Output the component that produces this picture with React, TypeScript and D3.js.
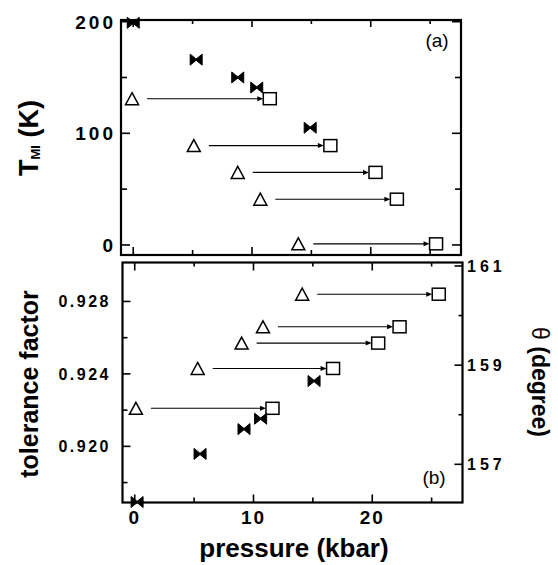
import React from "react";
import * as d3 from "d3";

// panel (a): T_MI vs pressure
const topBowP = [0, 5.3, 8.8, 10.4, 14.9];
const topBowT = [199, 166, 150, 141, 105];
const topTriP = [-0.1, 5.1, 8.8, 10.7, 13.9];
const topSqP = [11.5, 16.6, 20.4, 22.2, 25.5];
const topT = [131, 89, 65, 41, 1];

// panel (b): tolerance factor / theta vs pressure
const botBowP = [0.2, 5.5, 9.2, 10.6, 15.1];
const botBowTheta = [156.24, 157.21, 157.71, 157.92, 158.68];
const botTriP = [0.1, 5.3, 9.0, 10.8, 14.1];
const botSqP = [11.6, 16.7, 20.5, 22.3, 25.6];
const botTol = [0.9221, 0.9243, 0.9257, 0.9266, 0.9284];

const xMajor = [0, 10, 20];
const xMinor = [5, 15, 25];
const tMajor = [0, 100, 200];
const tMinor = [50, 150];
const tolMajor = [0.92, 0.924, 0.928];
const tolMinor = [0.918, 0.922, 0.926];
const thMajor = [157, 159, 161];
const thMinor = [158, 160];

const FONT = "'Liberation Sans', Arial, Helvetica, sans-serif";

const bowtie = (cx: number, cy: number) =>
  `M${cx - 6},${cy - 5.5}L${cx + 0.8},${cy}L${cx - 6},${cy + 5.5}Z` +
  `M${cx + 6},${cy - 5.5}L${cx - 0.8},${cy}L${cx + 6},${cy + 5.5}Z`;

const triangle = (cx: number, cy: number) =>
  `M${cx},${cy - 6}L${cx + 6.5},${cy + 6}L${cx - 6.5},${cy + 6}Z`;

function Arrows({ triP, sqP, vals, x, y }) {
  return (
    <g>
      {vals.map((v, i) => {
        const yy = y(v);
        const tx = x(triP[i]);
        const sx = x(sqP[i]);
        const tip = sx - 6.5;
        return (
          <g key={i}>
            <path d={triangle(tx, yy)} fill="none" stroke="#000" strokeWidth={1.5} strokeLinejoin="miter" />
            <line x1={tx + 15} x2={tip - 4} y1={yy} y2={yy} stroke="#000" strokeWidth={1.1} />
            <path d={`M${tip},${yy}L${tip - 6},${yy - 2.5}L${tip - 6},${yy + 2.5}Z`} fill="#000" />
            <rect x={sx - 6.5} y={yy - 6} width={13} height={12} fill="none" stroke="#000" strokeWidth={1.5} />
          </g>
        );
      })}
    </g>
  );
}

export default function App() {
  const xTop = d3.scaleLinear().domain([-1.03, 27.6]).range([121, 461]);
  const xBot = d3.scaleLinear().domain([-1.03, 27.6]).range([122.5, 462.5]);
  const yTop = d3.scaleLinear().domain([-9, 201.5]).range([255, 20]);
  const yTol = d3.scaleLinear().domain([0.9169, 0.93015]).range([502.5, 262.5]);
  const yTh = d3.scaleLinear().domain([156.23, 161.07]).range([502.5, 262.5]);

  const tk = { stroke: "#000", strokeWidth: 1.6 };

  const [tx0, tx1] = xTop.range();
  const [ty1, ty0] = yTop.range();
  const [bx0, bx1] = xBot.range();
  const [by1, by0] = yTol.range();

  return (
    <svg width={558} height={565} style={{ position: "absolute", left: 0, top: 0, background: "#fff" }} fontFamily={FONT}>
      <rect width={558} height={565} fill="#fff" />

      {/* ---- panel (a) ---- */}
      {xMajor.map((d) => (
        <g key={"ta" + d}>
          <line x1={xTop(d)} x2={xTop(d)} y1={ty0} y2={ty0 + 7} {...tk} />
          <line x1={xTop(d)} x2={xTop(d)} y1={ty1} y2={ty1 - 8} {...tk} />
        </g>
      ))}
      {xMinor.map((d) => (
        <g key={"tam" + d}>
          <line x1={xTop(d)} x2={xTop(d)} y1={ty0} y2={ty0 + 4} {...tk} />
          <line x1={xTop(d)} x2={xTop(d)} y1={ty1} y2={ty1 - 5} {...tk} />
        </g>
      ))}
      {tMajor.map((d) => (
        <g key={"ya" + d}>
          <line x1={tx0} x2={tx0 + 9} y1={yTop(d)} y2={yTop(d)} {...tk} />
          <line x1={tx1} x2={tx1 - 9} y1={yTop(d)} y2={yTop(d)} {...tk} />
          <text x={116} y={yTop(d) + 7} textAnchor="end" fontSize={19} fontWeight="bold" letterSpacing={3}>
            {d}
          </text>
        </g>
      ))}
      {tMinor.map((d) => (
        <g key={"yam" + d}>
          <line x1={tx0} x2={tx0 + 6} y1={yTop(d)} y2={yTop(d)} {...tk} />
          <line x1={tx1} x2={tx1 - 6} y1={yTop(d)} y2={yTop(d)} {...tk} />
        </g>
      ))}
      <rect x={tx0} y={ty0} width={tx1 - tx0} height={ty1 - ty0} fill="none" stroke="#000" strokeWidth={2.2} />

      {topBowP.map((p, i) => (
        <path key={"ba" + i} d={bowtie(xTop(p), yTop(topBowT[i]))} fill="#000" stroke="#000" strokeWidth={1} strokeLinejoin="round" />
      ))}
      <Arrows triP={topTriP} sqP={topSqP} vals={topT} x={xTop} y={yTop} />
      <text x={437} y={47} textAnchor="middle" fontSize={19}>(a)</text>

      <text transform="translate(38,138) rotate(-90)" textAnchor="middle" fontWeight="bold" fontSize={27}>
        T<tspan fontSize={13} dy={2}>MI</tspan>
        <tspan dy={-2}> (K)</tspan>
      </text>

      {/* ---- panel (b) ---- */}
      {xMajor.map((d) => (
        <g key={"tb" + d}>
          <line x1={xBot(d)} x2={xBot(d)} y1={by0} y2={by0 + 8} {...tk} />
          <line x1={xBot(d)} x2={xBot(d)} y1={by1} y2={by1 - 8} {...tk} />
          <text x={xBot(d)} y={524} textAnchor="middle" fontSize={19} fontWeight="bold" letterSpacing={2}>
            {d}
          </text>
        </g>
      ))}
      {xMinor.map((d) => (
        <g key={"tbm" + d}>
          <line x1={xBot(d)} x2={xBot(d)} y1={by0} y2={by0 + 4} {...tk} />
          <line x1={xBot(d)} x2={xBot(d)} y1={by1} y2={by1 - 5} {...tk} />
        </g>
      ))}
      {tolMajor.map((d) => (
        <g key={"yl" + d}>
          <line x1={bx0} x2={bx0 + 8} y1={yTol(d)} y2={yTol(d)} {...tk} />
          <text x={111} y={yTol(d) + 6} textAnchor="end" fontSize={16} fontWeight="bold" letterSpacing={2.5}>
            {d3.format(".3f")(d)}
          </text>
        </g>
      ))}
      {tolMinor.map((d) => (
        <line key={"ylm" + d} x1={bx0} x2={bx0 + 5} y1={yTol(d)} y2={yTol(d)} {...tk} />
      ))}
      {thMajor.map((d) => (
        <g key={"yr" + d}>
          <line x1={bx1} x2={bx1 - 8} y1={yTh(d)} y2={yTh(d)} {...tk} />
          <text x={467} y={yTh(d) + 6} fontSize={16} fontWeight="bold" letterSpacing={4}>
            {d}
          </text>
        </g>
      ))}
      {thMinor.map((d) => (
        <line key={"yrm" + d} x1={bx1} x2={bx1 - 4} y1={yTh(d)} y2={yTh(d)} {...tk} />
      ))}
      <rect x={bx0} y={by0} width={bx1 - bx0} height={by1 - by0} fill="none" stroke="#000" strokeWidth={2.2} />

      {botBowP.map((p, i) => (
        <path key={"bb" + i} d={bowtie(xBot(p), yTh(botBowTheta[i]))} fill="#000" stroke="#000" strokeWidth={1} strokeLinejoin="round" />
      ))}
      <Arrows triP={botTriP} sqP={botSqP} vals={botTol} x={xBot} y={yTol} />
      <text x={434} y={484} textAnchor="middle" fontSize={19}>(b)</text>

      <text transform="translate(38,384) rotate(-90)" textAnchor="middle" fontWeight="bold" fontSize={25}>
        tolerance factor
      </text>
      <text transform="translate(532,382) rotate(90)" textAnchor="middle" fontSize={23}>
        θ <tspan fontWeight="bold">(degree)</tspan>
      </text>
      <text x={294} y={557} textAnchor="middle" fontWeight="bold" fontSize={26}>
        pressure (kbar)
      </text>
    </svg>
  );
}
